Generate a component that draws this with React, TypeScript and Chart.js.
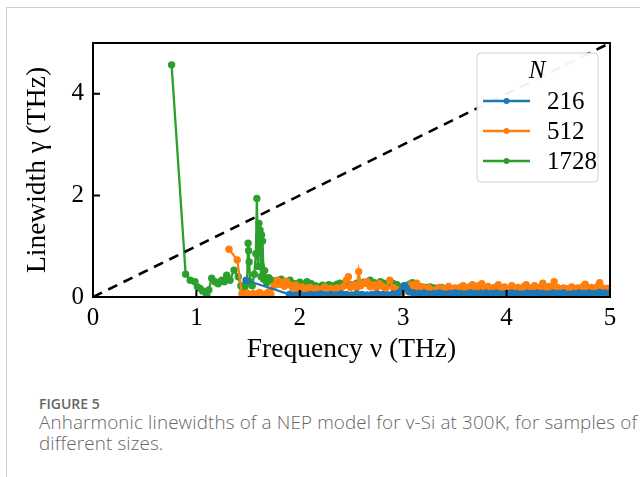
import React, { useEffect, useRef } from "react";
import { Chart, registerables } from "chart.js";

Chart.register(...registerables);

// ---------- data ----------
const SERIES_LABELS = ["216", "512", "1728"];
const SERIES_COLORS = ["#1f77b4", "#ff7f0e", "#2ca02c"];
const LEGEND_TITLE = "N";
const X_TICKS = [0, 1, 2, 3, 4, 5];
const Y_TICKS = [0, 2, 4];
const X_TITLE = "Frequency ν (THz)";
const Y_TITLE = "Linewidth γ (THz)";

const DIAG_X = [0, 5];
const DIAG_Y = [0, 5];

const FREQ_216 = [1.48, 1.9, 1.95, 2.0, 2.05, 2.1, 2.15, 2.2, 2.25, 2.3, 2.35, 2.4, 2.45, 2.5, 2.55, 2.6, 2.65, 2.7, 2.75, 2.8, 2.85, 2.9, 2.95, 2.98, 3.01, 3.03, 3.06, 3.1, 3.15, 3.2, 3.25, 3.3, 3.35, 3.4, 3.45, 3.5, 3.55, 3.6, 3.65, 3.7, 3.75, 3.8, 3.85, 3.9, 3.95, 4.0, 4.05, 4.1, 4.15, 4.2, 4.25, 4.3, 4.35, 4.4, 4.45, 4.5, 4.55, 4.6, 4.65, 4.7, 4.75, 4.8, 4.85, 4.9, 4.95, 5.0];
const GAMMA_216 = [0.33, 0.05, 0.04, 0.05, 0.03, 0.05, 0.04, 0.06, 0.04, 0.05, 0.04, 0.06, 0.05, 0.04, 0.06, 0.05, 0.04, 0.05, 0.06, 0.05, 0.04, 0.06, 0.07, 0.12, 0.22, 0.18, 0.1, 0.08, 0.07, 0.08, 0.06, 0.07, 0.08, 0.06, 0.07, 0.08, 0.07, 0.06, 0.08, 0.07, 0.06, 0.08, 0.07, 0.08, 0.06, 0.07, 0.08, 0.07, 0.06, 0.08, 0.07, 0.08, 0.07, 0.06, 0.08, 0.07, 0.08, 0.06, 0.07, 0.08, 0.07, 0.08, 0.07, 0.09, 0.08, 0.08];

const FREQ_512 = [1.315, 1.395, 1.44, 1.46, 1.49, 1.52, 1.55, 1.58, 1.61, 1.64, 1.67, 1.7, 1.72, 1.75, 1.78, 1.8, 1.83, 1.85, 1.87, 1.9, 1.93, 1.96, 1.99, 2.02, 2.05, 2.08, 2.1, 2.13, 2.16, 2.19, 2.22, 2.24, 2.27, 2.3, 2.33, 2.36, 2.39, 2.42, 2.45, 2.47, 2.49, 2.52, 2.55, 2.57, 2.59, 2.62, 2.65, 2.68, 2.71, 2.74, 2.77, 2.8, 2.83, 2.87, 2.9, 2.93, 2.96, 2.99, 3.02, 3.05, 3.08, 3.11, 3.13, 3.16, 3.19, 3.22, 3.25, 3.28, 3.32, 3.35, 3.38, 3.41, 3.44, 3.47, 3.5, 3.53, 3.55, 3.58, 3.61, 3.64, 3.67, 3.7, 3.73, 3.76, 3.79, 3.82, 3.85, 3.88, 3.92, 3.95, 3.98, 4.02, 4.05, 4.08, 4.11, 4.14, 4.17, 4.19, 4.22, 4.25, 4.27, 4.3, 4.33, 4.35, 4.38, 4.41, 4.44, 4.46, 4.49, 4.52, 4.55, 4.58, 4.6, 4.63, 4.66, 4.69, 4.72, 4.74, 4.76, 4.79, 4.82, 4.85, 4.88, 4.9, 4.93, 4.95, 4.98];
const GAMMA_512 = [0.94, 0.73, 0.06, 0.03, 0.08, 0.02, 0.07, 0.04, 0.09, 0.03, 0.06, 0.1, 0.05, 0.22, 0.33, 0.25, 0.29, 0.21, 0.31, 0.24, 0.18, 0.23, 0.15, 0.2, 0.14, 0.18, 0.19, 0.13, 0.17, 0.12, 0.16, 0.2, 0.14, 0.17, 0.13, 0.18, 0.15, 0.21, 0.33, 0.4, 0.19, 0.24, 0.18, 0.5, 0.22, 0.27, 0.3, 0.2, 0.24, 0.18, 0.26, 0.21, 0.17, 0.33, 0.19, 0.15, 0.12, 0.08, 0.14, 0.2, 0.24, 0.18, 0.27, 0.16, 0.2, 0.15, 0.18, 0.13, 0.15, 0.19, 0.14, 0.17, 0.21, 0.15, 0.18, 0.14, 0.19, 0.22, 0.16, 0.2, 0.24, 0.17, 0.22, 0.26, 0.18, 0.21, 0.16, 0.19, 0.24, 0.17, 0.2, 0.15, 0.22, 0.17, 0.19, 0.16, 0.21, 0.24, 0.18, 0.15, 0.22, 0.17, 0.2, 0.27, 0.18, 0.21, 0.16, 0.3, 0.19, 0.16, 0.18, 0.14, 0.17, 0.2, 0.15, 0.18, 0.16, 0.21, 0.25, 0.17, 0.19, 0.14, 0.21, 0.28, 0.18, 0.15, 0.17];

const FREQ_1728 = [0.76, 0.896, 0.94, 0.986, 1.01, 1.035, 1.06, 1.083, 1.1, 1.12, 1.148, 1.18, 1.21, 1.245, 1.27, 1.293, 1.325, 1.364, 1.405, 1.43, 1.45, 1.47, 1.49, 1.5, 1.505, 1.51, 1.52, 1.54, 1.56, 1.575, 1.585, 1.595, 1.605, 1.615, 1.625, 1.63, 1.64, 1.65, 1.66, 1.68, 1.7, 1.73, 1.76, 1.79, 1.82, 1.86, 1.905, 1.95, 2.0, 2.04, 2.07, 2.11, 2.15, 2.18, 2.22, 2.25, 2.28, 2.32, 2.36, 2.39, 2.43, 2.47, 2.51, 2.55, 2.58, 2.62, 2.65, 2.68, 2.72, 2.75, 2.78, 2.81, 2.85, 2.9, 2.94, 2.98, 3.03, 3.06, 3.09, 3.13, 3.17, 3.22, 3.26, 3.3, 3.34, 3.37, 3.42, 3.47, 3.52, 3.58, 3.64, 3.7, 3.76, 3.82, 3.89, 3.95];
const GAMMA_1728 = [4.57, 0.45, 0.33, 0.3, 0.2, 0.17, 0.12, 0.1, 0.04, 0.14, 0.37, 0.3, 0.26, 0.33, 0.3, 0.43, 0.33, 0.53, 0.4, 0.22, 0.12, 0.2, 0.28, 1.06, 0.91, 0.69, 0.3, 0.22, 0.45, 0.85, 1.94, 0.6, 1.45, 1.32, 0.4, 1.22, 1.1, 0.35, 0.52, 0.28, 0.38, 0.33, 0.28, 0.31, 0.35, 0.27, 0.33, 0.26, 0.29, 0.25, 0.3, 0.26, 0.22, 0.2, 0.23, 0.21, 0.24, 0.22, 0.25, 0.27, 0.23, 0.25, 0.24, 0.27, 0.26, 0.29, 0.27, 0.33, 0.28, 0.26, 0.3, 0.27, 0.25, 0.27, 0.24, 0.2, 0.22, 0.25, 0.28, 0.22, 0.2, 0.19, 0.2, 0.18, 0.17, 0.19, 0.16, 0.15, 0.14, 0.15, 0.14, 0.13, 0.15, 0.14, 0.18, 0.13];

const SERIES_X = [FREQ_216, FREQ_512, FREQ_1728];
const SERIES_Y = [GAMMA_216, GAMMA_512, GAMMA_1728];

const CAPTION_LABEL = "FIGURE 5";
const CAPTION_LINE1 = "Anharmonic linewidths of a NEP model for v-Si at 300K, for samples of";
const CAPTION_LINE2 = "different sizes.";

// ---------- helpers ----------
const toPoints = (xs: number[], ys: number[]) => xs.map((x, i) => ({ x, y: ys[i] }));
const SERIF = "'Liberation Serif', 'Times New Roman', serif";

const framePlugin = {
  id: "frameTicks",
  afterDatasetsDraw(chart: any) {
    const { ctx, chartArea, scales } = chart;
    const { left, right, top, bottom } = chartArea;
    ctx.save();
    ctx.strokeStyle = "#000";
    ctx.lineWidth = 2;
    ctx.strokeRect(left, top, right - left, bottom - top);
    ctx.beginPath();
    X_TICKS.forEach((v) => {
      const px = scales.x.getPixelForValue(v);
      ctx.moveTo(px, bottom);
      ctx.lineTo(px, bottom - 7);
    });
    Y_TICKS.forEach((v) => {
      const py = scales.y.getPixelForValue(v);
      ctx.moveTo(left, py);
      ctx.lineTo(left + 7, py);
    });
    ctx.stroke();
    ctx.restore();
  },
};

const legendPlugin = {
  id: "boxLegend",
  afterDraw(chart: any) {
    const { ctx, chartArea } = chart;
    const bx = chartArea.right - 133;
    const by = chartArea.top + 10;
    const bw = 121;
    const bh = 129;
    ctx.save();
    ctx.beginPath();
    const r = 4;
    ctx.moveTo(bx + r, by);
    ctx.lineTo(bx + bw - r, by);
    ctx.quadraticCurveTo(bx + bw, by, bx + bw, by + r);
    ctx.lineTo(bx + bw, by + bh - r);
    ctx.quadraticCurveTo(bx + bw, by + bh, bx + bw - r, by + bh);
    ctx.lineTo(bx + r, by + bh);
    ctx.quadraticCurveTo(bx, by + bh, bx, by + bh - r);
    ctx.lineTo(bx, by + r);
    ctx.quadraticCurveTo(bx, by, bx + r, by);
    ctx.closePath();
    ctx.fillStyle = "rgba(255,255,255,0.95)";
    ctx.fill();
    ctx.strokeStyle = "#d0d0d0";
    ctx.lineWidth = 1;
    ctx.stroke();

    ctx.fillStyle = "#000";
    ctx.textAlign = "center";
    ctx.textBaseline = "middle";
    ctx.font = `italic 25px ${SERIF}`;
    ctx.fillText(LEGEND_TITLE, bx + 60, by + 18);

    SERIES_LABELS.forEach((label, i) => {
      const cy = by + 48 + i * 30;
      ctx.strokeStyle = SERIES_COLORS[i];
      ctx.lineWidth = 2.5;
      ctx.beginPath();
      ctx.moveTo(bx + 6, cy);
      ctx.lineTo(bx + 53, cy);
      ctx.stroke();
      ctx.fillStyle = SERIES_COLORS[i];
      ctx.beginPath();
      ctx.arc(bx + 29.5, cy, 3, 0, Math.PI * 2);
      ctx.fill();
      ctx.fillStyle = "#000";
      ctx.textAlign = "left";
      ctx.font = `25px ${SERIF}`;
      ctx.fillText(label, bx + 70, cy + 1);
    });
    ctx.restore();
  },
};

function LinewidthChart() {
  const ref = useRef<HTMLCanvasElement | null>(null);
  useEffect(() => {
    if (!ref.current) return;
    const datasets: any[] = [
      {
        label: "diagonal",
        data: toPoints(DIAG_X, DIAG_Y),
        borderColor: "#000",
        borderWidth: 2.6,
        borderDash: [10, 7],
        pointRadius: 0,
        fill: false,
        clip: 2,
      },
    ];
    SERIES_LABELS.forEach((label, i) => {
      datasets.push({
        label,
        data: toPoints(SERIES_X[i], SERIES_Y[i]),
        borderColor: SERIES_COLORS[i],
        backgroundColor: SERIES_COLORS[i],
        pointBackgroundColor: SERIES_COLORS[i],
        pointBorderColor: SERIES_COLORS[i],
        borderWidth: 2.3,
        pointRadius: 3.7,
        pointBorderWidth: 0,
        tension: 0,
        fill: false,
        clip: 0,
      });
    });
    const chart = new Chart(ref.current, {
      type: "line",
      data: { datasets },
      options: {
        animation: false,
        responsive: false,
        maintainAspectRatio: false,
        layout: { padding: { top: 43, right: 30, left: 0, bottom: 0 } },
        plugins: { legend: { display: false }, tooltip: { enabled: false } },
        scales: {
          x: {
            type: "linear",
            min: 0,
            max: 5,
            afterBuildTicks: (s: any) => {
              s.ticks = X_TICKS.map((v) => ({ value: v }));
            },
            afterFit: (s: any) => {
              s.height = 73;
            },
            grid: { display: false, drawTicks: false },
            border: { display: false },
            ticks: {
              color: "#000",
              font: { family: SERIF, size: 25 },
              padding: 6,
              maxRotation: 0,
            },
            title: {
              display: true,
              text: X_TITLE,
              color: "#000",
              font: { family: SERIF, size: 27.5 },
              padding: { top: 0, bottom: 4 },
            },
          },
          y: {
            type: "linear",
            min: 0,
            max: 5,
            afterBuildTicks: (s: any) => {
              s.ticks = Y_TICKS.map((v) => ({ value: v }));
            },
            afterFit: (s: any) => {
              s.width = 93;
            },
            grid: { display: false, drawTicks: false },
            border: { display: false },
            ticks: {
              color: "#000",
              font: { family: SERIF, size: 25 },
              padding: 9,
            },
            title: {
              display: true,
              text: Y_TITLE,
              color: "#000",
              font: { family: SERIF, size: 27.5 },
              padding: { top: 21, bottom: 0 },
            },
          },
        },
      },
      plugins: [framePlugin, legendPlugin],
    });
    return () => chart.destroy();
  }, []);
  return <canvas ref={ref} width={640} height={370} style={{ position: "absolute", left: 0, top: 0, width: 640, height: 370 }} />;
}

export default function App() {
  return (
    <div style={{ position: "absolute", left: 0, top: 0, width: 640, height: 477, background: "#fff", overflow: "hidden" }}>
      <div style={{ position: "absolute", left: 6, top: 7, width: 640, height: 480, borderTop: "1px solid #cfcfcf", borderLeft: "1px solid #cfcfcf" }} />
      <LinewidthChart />
      <div style={{ position: "absolute", left: 39, top: 395, fontFamily: "'Open Sans', sans-serif", color: "#666", whiteSpace: "nowrap" }}>
        <div style={{ fontSize: 14, fontWeight: 600, lineHeight: "17px" }}>{CAPTION_LABEL}</div>
        <div style={{ fontSize: 18.8, lineHeight: "21px", fontWeight: 300, letterSpacing: "0.15px" }}>
          {CAPTION_LINE1}
          <br />
          {CAPTION_LINE2}
        </div>
      </div>
    </div>
  );
}
